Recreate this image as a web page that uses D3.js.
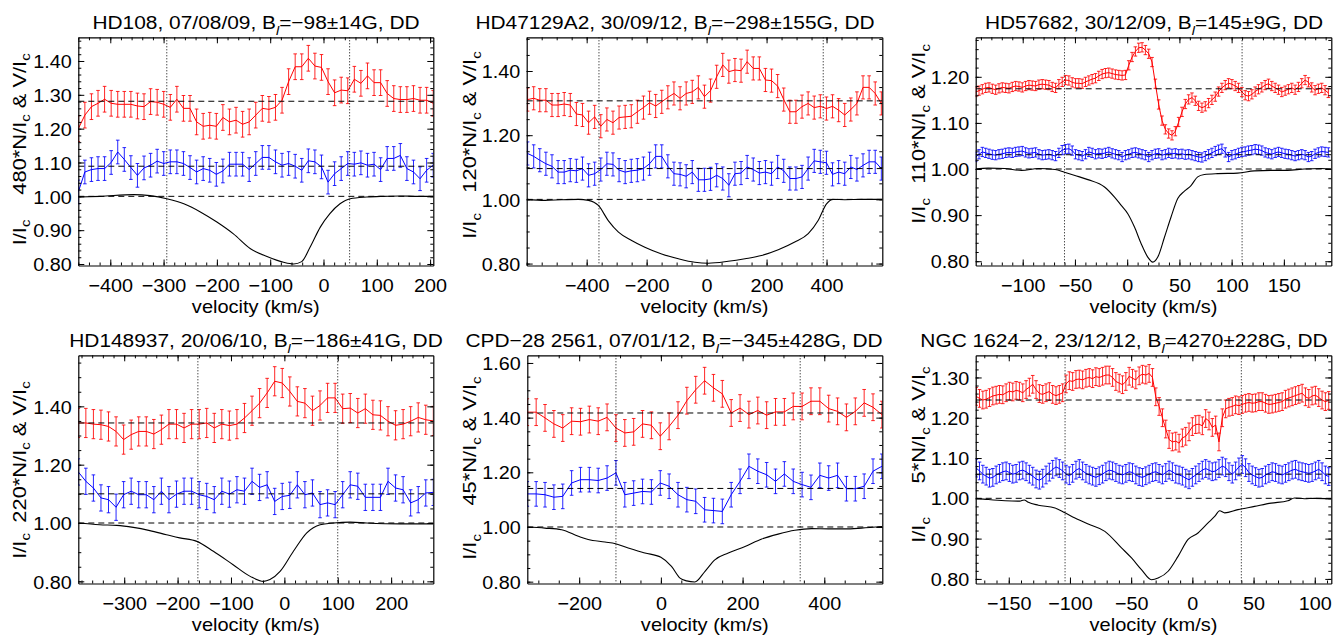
<!DOCTYPE html>
<html>
<head>
<meta charset="utf-8">
<script src="https://cdn.jsdelivr.net/npm/d3@7"></script>
<style>
  body { margin: 0; background: #fff; }
  svg { display: block; }
</style>
</head>
<body>
<svg id="chart" width="1333" height="638"></svg>
<script>
// ---------- panel 1 : HD108 ----------
const p1Title = ["HD108, 07/08/09, B", "l", "=\u221298\u00b114G, DD"];
const p1Scale = "480";
const p1XTicks = [-400, -300, -200, -100, 0, 100, 200];
const p1YTicks = [0.8, 0.9, 1.0, 1.1, 1.2, 1.3, 1.4];
const p1VelStart = -460, p1VelStep = 12.33;
const p1Red = [1.20, 1.24, 1.265, 1.275, 1.287, 1.275, 1.272, 1.272, 1.272, 1.267,
  1.265, 1.28, 1.278, 1.272, 1.263, 1.287, 1.26, 1.26, 1.22, 1.207,
  1.21, 1.207, 1.233, 1.22, 1.225, 1.213, 1.22, 1.24, 1.26, 1.257,
  1.263, 1.284, 1.339, 1.383, 1.383, 1.408, 1.385, 1.381, 1.339, 1.306,
  1.314, 1.312, 1.346, 1.334, 1.356, 1.336, 1.336, 1.304, 1.289, 1.286,
  1.286, 1.289, 1.284, 1.284, 1.275];
const p1Blue = [1.013, 1.072, 1.079, 1.082, 1.082, 1.10, 1.131, 1.109, 1.085, 1.062,
  1.084, 1.092, 1.104, 1.097, 1.102, 1.102, 1.097, 1.085, 1.072, 1.082,
  1.077, 1.065, 1.075, 1.095, 1.095, 1.095, 1.079, 1.097, 1.115, 1.115,
  1.102, 1.092, 1.097, 1.089, 1.077, 1.105, 1.102, 1.087, 1.042, 1.067,
  1.082, 1.097, 1.095, 1.099, 1.092, 1.095, 1.079, 1.112, 1.112, 1.121,
  1.082, 1.072, 1.052, 1.077, 1.092];
const p1RedErr = 0.038, p1BlueErr = 0.035;
const p1IVel = [-459, -419, -356, -294, -262, -231, -200, -169, -137, -106, -75, -56, -41, -25, -6, 12, 31, 50, 81, 112, 144, 175, 206];
const p1I = [0.998, 1.0, 1.005, 0.993, 0.978, 0.954, 0.924, 0.889, 0.845, 0.822, 0.805, 0.80, 0.807, 0.85, 0.909, 0.949, 0.978, 0.993, 0.998, 1.0, 1.001, 1.0, 1.0];
const p1Levels = [1.0, 1.089, 1.281];
const p1Dotted = [-294, 49];

// ---------- panel 2 : HD47129A2 ----------
const p2Title = ["HD47129A2, 30/09/12,  B", "l", "=\u2212298\u00b1155G, DD"];
const p2Scale = "120";
const p2XTicks = [-400, -200, 0, 200, 400];
const p2YTicks = [0.8, 1.0, 1.2, 1.4];
const p2VelStart = -597, p2VelStep = 20.34;
const p2Red = [1.311, 1.315, 1.309, 1.309, 1.294, 1.294, 1.297, 1.294, 1.266, 1.263,
  1.239, 1.257, 1.228, 1.249, 1.239, 1.255, 1.257, 1.259, 1.273, 1.286,
  1.301, 1.291, 1.304, 1.318, 1.33, 1.315, 1.33, 1.335, 1.349, 1.32,
  1.339, 1.382, 1.419, 1.398, 1.403, 1.401, 1.429, 1.408, 1.408, 1.372,
  1.37, 1.353, 1.311, 1.273, 1.273, 1.289, 1.299, 1.286, 1.29, 1.283,
  1.29, 1.278, 1.263, 1.28, 1.299, 1.349, 1.349, 1.33, 1.299];
const p2Blue = [1.143, 1.134, 1.122, 1.111, 1.103, 1.085, 1.085, 1.091, 1.089, 1.096,
  1.075, 1.08, 1.093, 1.111, 1.109, 1.091, 1.085, 1.089, 1.091, 1.096,
  1.111, 1.134, 1.134, 1.103, 1.08, 1.078, 1.072, 1.085, 1.061, 1.061,
  1.064, 1.075, 1.065, 1.044, 1.08, 1.082, 1.101, 1.093, 1.082, 1.085,
  1.08, 1.101, 1.089, 1.065, 1.065, 1.07, 1.096, 1.12, 1.117, 1.114,
  1.078, 1.085, 1.08, 1.101, 1.093, 1.106, 1.117, 1.117, 1.096];
const p2RedErr = 0.036, p2BlueErr = 0.036;
const p2IVel = [-600, -539, -483, -428, -394, -361, -328, -294, -250, -206, -150, -94, -39, 6, 72, 128, 183, 239, 294, 339, 372, 400, 422, 461, 517, 586];
const p2I = [1.0, 0.997, 0.999, 1.0, 0.997, 0.981, 0.934, 0.898, 0.872, 0.851, 0.83, 0.815, 0.804, 0.801, 0.807, 0.815, 0.825, 0.843, 0.867, 0.893, 0.934, 0.986, 1.0, 0.999, 1.0, 1.0];
const p2Levels = [1.0, 1.096, 1.307];
const p2Dotted = [-359, 389];

// ---------- panel 3 : HD57682 ----------
const p3Title = ["HD57682, 30/12/09, B", "l", "=145\u00b19G, DD"];
const p3Scale = "110";
const p3XTicks = [-100, -50, 0, 50, 100, 150];
const p3YTicks = [0.8, 0.9, 1.0, 1.1, 1.2];
const p3VelStart = -145, p3VelStep = 3.185;
const p3Red = [1.167, 1.170, 1.173, 1.176, 1.177, 1.174, 1.172, 1.175, 1.177, 1.176,
  1.175, 1.178, 1.180, 1.179, 1.177, 1.180, 1.182, 1.181, 1.180, 1.183,
  1.184, 1.183, 1.182, 1.178, 1.176, 1.184, 1.189, 1.193, 1.192, 1.188,
  1.186, 1.186, 1.185, 1.189, 1.192, 1.195, 1.197, 1.202, 1.206, 1.208,
  1.209, 1.207, 1.205, 1.204, 1.203, 1.204, 1.225, 1.243, 1.255, 1.263,
  1.264, 1.258, 1.250, 1.232, 1.185, 1.140, 1.105, 1.086, 1.077, 1.073,
  1.082, 1.102, 1.124, 1.141, 1.151, 1.155, 1.148, 1.137, 1.133, 1.136,
  1.143, 1.150, 1.157, 1.168, 1.176, 1.182, 1.186, 1.184, 1.180, 1.176,
  1.167, 1.160, 1.158, 1.162, 1.168, 1.173, 1.177, 1.182, 1.185, 1.180,
  1.176, 1.172, 1.167, 1.170, 1.173, 1.176, 1.172, 1.178, 1.186, 1.193,
  1.188, 1.177, 1.171, 1.174, 1.176, 1.171, 1.165];
const p3Blue = [1.026, 1.032, 1.037, 1.035, 1.033, 1.031, 1.030, 1.032, 1.033, 1.035,
  1.036, 1.035, 1.037, 1.038, 1.039, 1.036, 1.034, 1.035, 1.036, 1.032,
  1.030, 1.031, 1.032, 1.030, 1.028, 1.035, 1.041, 1.043, 1.044, 1.040,
  1.032, 1.030, 1.028, 1.032, 1.037, 1.035, 1.032, 1.034, 1.033, 1.035,
  1.037, 1.034, 1.032, 1.030, 1.026, 1.030, 1.032, 1.035, 1.036, 1.034,
  1.032, 1.030, 1.026, 1.030, 1.033, 1.034, 1.030, 1.032, 1.035, 1.033,
  1.034, 1.032, 1.033, 1.031, 1.032, 1.030, 1.028, 1.026, 1.025, 1.028,
  1.032, 1.035, 1.039, 1.042, 1.044, 1.036, 1.026, 1.030, 1.032, 1.035,
  1.037, 1.038, 1.040, 1.041, 1.043, 1.042, 1.040, 1.036, 1.034, 1.032,
  1.035, 1.037, 1.035, 1.033, 1.032, 1.030, 1.028, 1.030, 1.032, 1.030,
  1.026, 1.028, 1.033, 1.036, 1.038, 1.037, 1.036];
const p3RedErr = 0.010, p3BlueErr = 0.010;
const p3IVel = [-145, -133, -117, -101, -85, -69, -60, -50, -37.6, -21.7, -12.1, -5.7, 0.6, 7, 13.4, 19.7, 24.5, 29.3, 35.7, 42, 48.4, 54.8, 61.1, 67.5, 73.9, 86.6, 105.7, 121.7, 137.6, 153.5, 169.4, 185.4, 195];
const p3I = [1.0, 1.002, 1.001, 0.997, 1.001, 0.999, 0.993, 0.986, 0.977, 0.961, 0.939, 0.921, 0.903, 0.874, 0.838, 0.809, 0.798, 0.809, 0.852, 0.896, 0.936, 0.952, 0.964, 0.983, 0.988, 0.99, 0.991, 0.996, 0.997, 0.997, 1.0, 1.001, 1.0];
const p3Levels = [1.0, 1.031, 1.174];
const p3Dotted = [-60, 110];

// ---------- panel 4 : HD148937 ----------
const p4Title = ["HD148937, 20/06/10, B", "l", "=\u2212186\u00b141G, DD"];
const p4Scale = "220";
const p4XTicks = [-300, -200, -100, 0, 100, 200];
const p4YTicks = [0.8, 1.0, 1.2, 1.4];
const p4VelStart = -386, p4VelStep = 14.15;
const p4Red = [1.343, 1.343, 1.339, 1.337, 1.331, 1.314, 1.286, 1.303, 1.314, 1.314,
  1.305, 1.32, 1.339, 1.339, 1.326, 1.339, 1.339, 1.343, 1.326, 1.339,
  1.334, 1.339, 1.36, 1.385, 1.411, 1.446, 1.486, 1.48, 1.451, 1.417,
  1.411, 1.385, 1.403, 1.429, 1.429, 1.392, 1.394, 1.377, 1.392, 1.371,
  1.369, 1.349, 1.335, 1.339, 1.349, 1.362, 1.354, 1.35];
const p4Blue = [1.175, 1.143, 1.12, 1.086, 1.08, 1.054, 1.097, 1.109, 1.097, 1.097,
  1.08, 1.109, 1.08, 1.099, 1.109, 1.109, 1.097, 1.091, 1.08, 1.109,
  1.099, 1.114, 1.109, 1.143, 1.122, 1.131, 1.074, 1.091, 1.095, 1.131,
  1.097, 1.103, 1.063, 1.069, 1.063, 1.097, 1.131, 1.126, 1.088, 1.088,
  1.088, 1.143, 1.12, 1.114, 1.069, 1.08, 1.103, 1.105];
const p4RedErr = 0.05, p4BlueErr = 0.045;
const p4IVel = [-386, -346, -314, -283, -252, -221, -196, -164, -133, -96, -64, -39, -27, -8, 17, 42, 67, 92, 123, 154, 217, 279];
const p4I = [1.0, 0.994, 0.992, 0.985, 0.974, 0.96, 0.949, 0.937, 0.903, 0.857, 0.817, 0.80, 0.806, 0.834, 0.903, 0.966, 0.994, 1.0, 1.003, 1.0, 0.997, 0.997];
const p4Levels = [1.0, 1.10, 1.343];
const p4Dotted = [-162, 100];

// ---------- panel 5 : CPD-28 2561 ----------
const p5Title = ["CPD\u221228 2561, 07/01/12, B", "l", "=\u2212345\u00b1428G, DD"];
const p5Scale = "45";
const p5XTicks = [-200, 0, 200, 400];
const p5YTicks = [0.8, 1.0, 1.2, 1.4, 1.6];
const p5VelStart = -327, p5VelStep = 21.7;
const p5Red = [1.42, 1.42, 1.399, 1.377, 1.362, 1.387, 1.385, 1.393, 1.387, 1.401,
  1.362, 1.344, 1.348, 1.377, 1.372, 1.332, 1.368, 1.409, 1.462, 1.502,
  1.535, 1.509, 1.487, 1.417, 1.435, 1.411, 1.426, 1.409, 1.421, 1.421,
  1.441, 1.441, 1.46, 1.46, 1.433, 1.423, 1.401, 1.423, 1.454, 1.438, 1.411];
const p5Blue = [1.121, 1.121, 1.118, 1.109, 1.112, 1.161, 1.173, 1.173, 1.17, 1.179,
  1.198, 1.118, 1.124, 1.13, 1.128, 1.161, 1.149, 1.118, 1.10, 1.094,
  1.063, 1.06, 1.057, 1.118, 1.167, 1.222, 1.204, 1.191, 1.167, 1.194,
  1.167, 1.155, 1.145, 1.189, 1.179, 1.189, 1.14, 1.14, 1.149, 1.204, 1.222];
const p5RedErr = 0.049, p5BlueErr = 0.045;
const p5IVel = [-327, -284, -243, -202, -178, -137, -111, -80, -39, 0, 26, 47, 63, 83, 108, 132, 165, 206, 247, 287, 328, 369, 410, 451, 491, 542];
const p5I = [1.0, 0.996, 0.99, 0.966, 0.954, 0.945, 0.939, 0.923, 0.905, 0.889, 0.856, 0.813, 0.803, 0.799, 0.838, 0.88, 0.905, 0.929, 0.956, 0.974, 0.988, 0.994, 0.993, 0.993, 0.996, 1.002];
const p5Levels = [1.0, 1.141, 1.417];
const p5Dotted = [-110, 341];

// ---------- panel 6 : NGC 1624-2 ----------
const p6Title = ["NGC 1624\u22122, 23/12/12, B", "l", "=4270\u00b1228G, DD"];
const p6Scale = "5";
const p6XTicks = [-150, -100, -50, 0, 50, 100];
const p6YTicks = [0.8, 0.9, 1.0, 1.1, 1.2, 1.3];
const p6VelStart = -176.6, p6VelStep = 2.717;
const p6Red = [1.253, 1.248, 1.244, 1.246, 1.250, 1.254, 1.256, 1.258, 1.257, 1.262,
  1.266, 1.264, 1.268, 1.266, 1.262, 1.270, 1.276, 1.283, 1.270, 1.260,
  1.258, 1.262, 1.265, 1.258, 1.255, 1.258, 1.262, 1.284, 1.292, 1.290,
  1.295, 1.296, 1.294, 1.298, 1.300, 1.297, 1.302, 1.300, 1.303, 1.306,
  1.306, 1.300, 1.290, 1.286, 1.282, 1.290, 1.303, 1.298, 1.294, 1.304,
  1.308, 1.306, 1.310, 1.300, 1.252, 1.228, 1.200, 1.172, 1.146, 1.140,
  1.142, 1.137, 1.150, 1.154, 1.165, 1.178, 1.183, 1.184, 1.180, 1.198,
  1.192, 1.176, 1.182, 1.140, 1.200, 1.222, 1.226, 1.228, 1.232, 1.230,
  1.233, 1.236, 1.238, 1.236, 1.237, 1.240, 1.240, 1.236, 1.233, 1.234,
  1.236, 1.238, 1.240, 1.246, 1.249, 1.252, 1.255, 1.258, 1.261, 1.252,
  1.248, 1.254, 1.256, 1.250, 1.244, 1.240, 1.243];
const p6Blue = [1.075, 1.068, 1.060, 1.055, 1.050, 1.052, 1.058, 1.062, 1.066, 1.068,
  1.064, 1.060, 1.062, 1.068, 1.070, 1.066, 1.060, 1.055, 1.048, 1.045,
  1.050, 1.058, 1.065, 1.072, 1.078, 1.074, 1.068, 1.060, 1.056, 1.062,
  1.070, 1.074, 1.068, 1.062, 1.058, 1.055, 1.052, 1.056, 1.060, 1.066,
  1.070, 1.068, 1.064, 1.060, 1.058, 1.062, 1.066, 1.064, 1.058, 1.054,
  1.052, 1.056, 1.060, 1.064, 1.066, 1.062, 1.058, 1.064, 1.070, 1.066,
  1.060, 1.058, 1.055, 1.050, 1.046, 1.052, 1.058, 1.064, 1.070, 1.074,
  1.070, 1.066, 1.068, 1.074, 1.080, 1.076, 1.066, 1.060, 1.068, 1.078,
  1.084, 1.076, 1.064, 1.058, 1.054, 1.050, 1.052, 1.058, 1.062, 1.066,
  1.064, 1.060, 1.058, 1.062, 1.066, 1.070, 1.072, 1.068, 1.066, 1.064,
  1.062, 1.064, 1.068, 1.072, 1.066, 1.058, 1.054];
const p6RedErr = 0.022, p6BlueErr = 0.022;
const p6IVel = [-176.6, -166.6, -153, -141, -137.5, -134, -125.8, -112.2, -104.1, -95.9, -85.1, -71.5, -57.9, -49.7, -41.6, -33.4, -28, -19.8, -11.7, -3.5, 4.6, 12.8, 18.2, 22.3, 26.4, 37.2, 50.8, 64.4, 78, 83.4, 91.6, 99.7, 113.3];
const p6I = [1.0, 0.997, 0.994, 0.993, 0.996, 0.990, 0.983, 0.976, 0.964, 0.951, 0.936, 0.918, 0.877, 0.852, 0.823, 0.798, 0.802, 0.819, 0.856, 0.898, 0.914, 0.939, 0.955, 0.969, 0.964, 0.972, 0.98, 0.988, 0.994, 1.001, 0.999, 1.0, 0.999];
const p6Levels = [1.0, 1.06, 1.244];
const p6Dotted = [-104, 40];

// ---------- layout ----------
const FONT = "'Liberation Sans', Arial, Helvetica, sans-serif";
const SX = 1.1;          // horizontal stretch of the lettering
const YL = 1.25;         // lengthwise stretch of the rotated axis titles
const row1 = {top: 37.3, bottom: 265.5, titleY: 29.3, xlabY: 313.3};
const row2 = {top: 355.3, bottom: 583.5, titleY: 347.3, xlabY: 631.3};

const panels = [
  {title: p1Title, scale: p1Scale, red: p1Red, blue: p1Blue, redErr: p1RedErr, blueErr: p1BlueErr,
   velStart: p1VelStart, velStep: p1VelStep, iVel: p1IVel, iVal: p1I, levels: p1Levels, dotted: p1Dotted,
   xTicks: p1XTicks, yTicks: p1YTicks, xMinor: 20, yMinor: 0.02,
   row: row1, left: 78.3, right: 433.3, xDomain: [-460, 206], yDomain: [0.7956, 1.470],
   titleX: 256, ylabX: 25.5, nvY: 124, iY: 232.5},
  {title: p2Title, scale: p2Scale, red: p2Red, blue: p2Blue, redErr: p2RedErr, blueErr: p2BlueErr,
   velStart: p2VelStart, velStep: p2VelStep, iVel: p2IVel, iVal: p2I, levels: p2Levels, dotted: p2Dotted,
   xTicks: p2XTicks, yTicks: p2YTicks, xMinor: 50, yMinor: 0.05,
   row: row1, left: 526.7, right: 882.3, xDomain: [-600, 586], yDomain: [0.794, 1.505],
   titleX: 675, ylabX: 476, nvY: 122, iY: 226},
  {title: p3Title, scale: p3Scale, red: p3Red, blue: p3Blue, redErr: p3RedErr, blueErr: p3BlueErr,
   velStart: p3VelStart, velStep: p3VelStep, iVel: p3IVel, iVal: p3I, levels: p3Levels, dotted: p3Dotted,
   xTicks: p3XTicks, yTicks: p3YTicks, xMinor: 10, yMinor: 0.02,
   row: row1, left: 975.7, right: 1331.3, xDomain: [-145, 195.4], yDomain: [0.7907, 1.2857],
   titleX: 1154, ylabX: 925, nvY: 114, iY: 211},
  {title: p4Title, scale: p4Scale, red: p4Red, blue: p4Blue, redErr: p4RedErr, blueErr: p4BlueErr,
   velStart: p4VelStart, velStep: p4VelStep, iVel: p4IVel, iVal: p4I, levels: p4Levels, dotted: p4Dotted,
   xTicks: p4XTicks, yTicks: p4YTicks, xMinor: 20, yMinor: 0.05,
   row: row2, left: 78.3, right: 433.3, xDomain: [-386, 279], yDomain: [0.7926, 1.575],
   titleX: 256, ylabX: 25.5, nvY: 452, iY: 546},
  {title: p5Title, scale: p5Scale, red: p5Red, blue: p5Blue, redErr: p5RedErr, blueErr: p5BlueErr,
   velStart: p5VelStart, velStep: p5VelStep, iVel: p5IVel, iVal: p5I, levels: p5Levels, dotted: p5Dotted,
   xTicks: p5XTicks, yTicks: p5YTicks, xMinor: 50, yMinor: 0.05,
   row: row2, left: 527.3, right: 882.3, xDomain: [-327, 542], yDomain: [0.7933, 1.628],
   titleX: 674, ylabX: 476, nvY: 441, iY: 547},
  {title: p6Title, scale: p6Scale, red: p6Red, blue: p6Blue, redErr: p6RedErr, blueErr: p6BlueErr,
   velStart: p6VelStart, velStep: p6VelStep, iVel: p6IVel, iVal: p6I, levels: p6Levels, dotted: p6Dotted,
   xTicks: p6XTicks, yTicks: p6YTicks, xMinor: 10, yMinor: 0.02,
   row: row2, left: 975.7, right: 1331.3, xDomain: [-177, 113.5], yDomain: [0.7886, 1.355],
   titleX: 1124, ylabX: 925, nvY: 425, iY: 530}
];

const svg = d3.select("#chart");
svg.append("rect").attr("width", 1333).attr("height", 638).attr("fill", "#fff");

// text with subscripts: parts = [[string, isSub, italic], ...]
function richText(sel, parts, size) {
  parts.forEach(function(pt, i) {
    const prevSub = i > 0 && parts[i - 1][1];
    const ts = sel.append("tspan").text(pt[0]);
    if (pt[1]) ts.attr("font-size", size * 0.68).attr("dy", size * 0.28);
    else if (prevSub) ts.attr("dy", -size * 0.28);
    if (pt[2]) ts.attr("font-style", "italic");
  });
}

function errPath(x, y, vel, vals, err, cap) {
  let d = "";
  vals.forEach(function(v, i) {
    const px = x(vel[i]), y1 = y(v - err), y2 = y(v + err);
    d += `M${px},${y1}V${y2}M${px - cap},${y1}H${px + cap}M${px - cap},${y2}H${px + cap}`;
  });
  return d;
}

panels.forEach(function(p, k) {
  const top = p.row.top, bottom = p.row.bottom;
  const x = d3.scaleLinear().domain(p.xDomain).range([p.left, p.right]);
  const y = d3.scaleLinear().domain(p.yDomain).range([bottom, top]);
  const g = svg.append("g");

  const clipId = "clip" + k;
  svg.append("clipPath").attr("id", clipId).append("rect")
    .attr("x", p.left).attr("y", top).attr("width", p.right - p.left).attr("height", bottom - top);
  const dg = g.append("g").attr("clip-path", `url(#${clipId})`);

  // Stokes I profile
  dg.append("path")
    .attr("d", d3.line().x((d, i) => x(p.iVel[i])).y(d => y(d)).curve(d3.curveMonotoneX)(p.iVal))
    .attr("fill", "none").attr("stroke", "#000").attr("stroke-width", 1.1);

  // N (blue) and V (red) with error bars
  [[p.blue, p.blueErr, "#0000ff"], [p.red, p.redErr, "#ff0000"]].forEach(function(s) {
    const vel = s[0].map((d, i) => p.velStart + i * p.velStep);
    dg.append("path").attr("d", errPath(x, y, vel, s[0], s[1], 1.8))
      .attr("fill", "none").attr("stroke", s[2]).attr("stroke-width", 1).attr("stroke-opacity", 0.85);
    dg.append("path")
      .attr("d", d3.line().x((d, i) => x(vel[i])).y(d => y(d))(s[0]))
      .attr("fill", "none").attr("stroke", s[2]).attr("stroke-width", 1);
  });

  // reference levels and line limits
  dg.selectAll(".lvl").data(p.levels).join("line")
    .attr("x1", p.left).attr("x2", p.right).attr("y1", d => y(d)).attr("y2", d => y(d))
    .attr("stroke", "#000").attr("stroke-width", 1).attr("stroke-dasharray", "6,4");
  dg.selectAll(".dot").data(p.dotted).join("line")
    .attr("x1", d => x(d)).attr("x2", d => x(d)).attr("y1", top).attr("y2", bottom)
    .attr("stroke", "#000").attr("stroke-width", 1).attr("stroke-dasharray", "1,2");

  // axes: ticks inward on all four sides
  const xMinorVals = d3.range(Math.ceil(p.xDomain[0] / p.xMinor) * p.xMinor, p.xDomain[1], p.xMinor);
  const yMinorVals = d3.range(Math.ceil(p.yDomain[0] / p.yMinor - 1e-6) * p.yMinor, p.yDomain[1], p.yMinor);
  const axes = [
    [d3.axisBottom(x), `translate(0,${bottom})`, xMinorVals, p.xTicks, d3.format("d")],
    [d3.axisTop(x), `translate(0,${top})`, xMinorVals, p.xTicks, null],
    [d3.axisLeft(y), `translate(${p.left},0)`, yMinorVals, p.yTicks, d3.format(".2f")],
    [d3.axisRight(y), `translate(${p.right},0)`, yMinorVals, p.yTicks, null]
  ];
  axes.forEach(function(a, j) {
    g.append("g").attr("transform", a[1])
      .call(a[0].tickValues(a[2]).tickSize(-3).tickSizeOuter(0).tickFormat(""))
      .call(s => s.select(".domain").attr("stroke", "#000").attr("stroke-width", 1.2));
    const ax = g.append("g").attr("transform", a[1])
      .call(a[0].tickValues(a[3]).tickSize(-6).tickSizeOuter(0).tickFormat(a[4] || ""))
      .attr("font-family", FONT).attr("font-size", 18.5);
    ax.select(".domain").remove();
    ax.selectAll("line").attr("stroke", "#000");
    if (j === 0) {
      ax.selectAll("text").attr("fill", "#000").attr("y", 26.2).attr("dy", 0)
        .attr("transform", "scale(1.07,1)");
    } else if (j === 2) {
      ax.selectAll("text").attr("fill", "#000").attr("x", -6.5 / 1.07).attr("dy", "0.36em")
        .attr("transform", "scale(1.07,1)");
    }
  });

  // title
  const tt = g.append("text").attr("font-family", FONT).attr("font-size", 19)
    .attr("text-anchor", "middle").attr("fill", "#000")
    .attr("transform", `translate(${p.titleX},${p.row.titleY}) scale(${SX},1)`);
  richText(tt, [[p.title[0], false], [p.title[1], true, true], [p.title[2], false]], 19);

  // x label
  g.append("text").attr("font-family", FONT).attr("font-size", 18.2)
    .attr("text-anchor", "middle").attr("fill", "#000")
    .attr("transform", `translate(${(p.left + p.right) / 2},${p.row.xlabY}) scale(${SX},1)`)
    .text("velocity (km/s)");

  // y labels
  const nv = g.append("text").attr("font-family", FONT).attr("font-size", 17.5)
    .attr("text-anchor", "middle").attr("fill", "#000")
    .attr("transform", `translate(${p.ylabX},${p.nvY}) rotate(-90) scale(${YL},1)`);
  richText(nv, [[p.scale + "*N/I", false], ["c", true], [" & V/I", false], ["c", true]], 17.5);
  const il = g.append("text").attr("font-family", FONT).attr("font-size", 17.5)
    .attr("text-anchor", "middle").attr("fill", "#000")
    .attr("transform", `translate(${p.ylabX},${p.iY}) rotate(-90) scale(${YL},1)`);
  richText(il, [["I/I", false], ["c", true]], 17.5);
});
</script>
</body>
</html>
